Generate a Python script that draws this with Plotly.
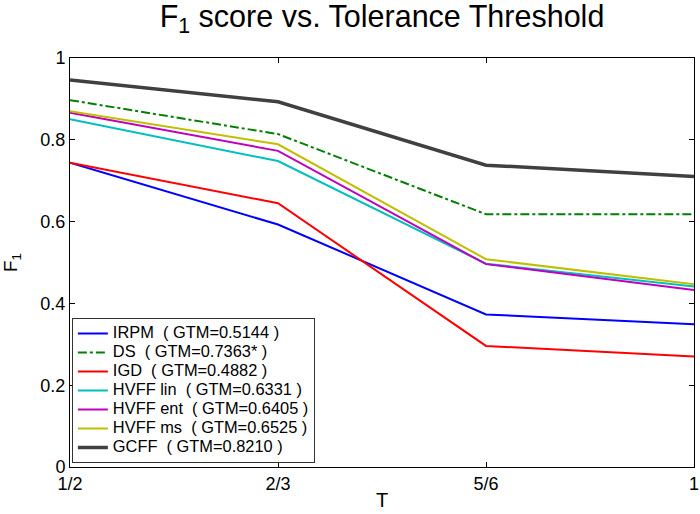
import plotly.graph_objects as go

x_labels = ["1/2", "2/3", "5/6", "1"]
x_pos = [0, 1, 2, 3]

series_names = [
    "IRPM  ( GTM=0.5144 )",
    "DS  ( GTM=0.7363* )",
    "IGD  ( GTM=0.4882 )",
    "HVFF lin  ( GTM=0.6331 )",
    "HVFF ent  ( GTM=0.6405 )",
    "HVFF ms  ( GTM=0.6525 )",
    "GCFF  ( GTM=0.8210 )",
]
irpm = [0.744, 0.593, 0.373, 0.349]
ds = [0.897, 0.814, 0.618, 0.618]
igd = [0.744, 0.645, 0.296, 0.270]
hvff_lin = [0.850, 0.748, 0.497, 0.441]
hvff_ent = [0.866, 0.773, 0.496, 0.433]
hvff_ms = [0.870, 0.789, 0.508, 0.447]
gcff = [0.946, 0.893, 0.738, 0.710]

series_values = [irpm, ds, igd, hvff_lin, hvff_ent, hvff_ms, gcff]
colors = ["#0000ff", "#008000", "#ff0000", "#00bfbf", "#bf00bf", "#bfbf00", "#404040"]
dashes = ["solid", "dashdot", "solid", "solid", "solid", "solid", "solid"]
widths = [2, 2, 2, 2, 2, 2, 3.5]

fig = go.Figure()
for name, vals, c, d, w in zip(series_names, series_values, colors, dashes, widths):
    fig.add_trace(go.Scatter(x=x_pos, y=vals, mode="lines",
                             name='<span style="font-size:16.4px">' + name + '</span>',
                             line=dict(color=c, dash=d, width=w)))

font_family = "Liberation Sans, Arial, sans-serif"
fig.update_layout(
    width=700, height=514,
    margin=dict(l=70, r=6, t=58, b=47, autoexpand=False),
    paper_bgcolor="white", plot_bgcolor="white",
    font=dict(family=font_family, color="black"),
    title=dict(text="F<sub>1</sub> score vs. Tolerance Threshold",
               x=0.5, xref="paper", xanchor="center",
               y=0.969, yref="container", yanchor="middle",
               font=dict(size=30.5, family=font_family)),
    showlegend=True,
    legend=dict(x=0.003, y=0.01, xanchor="left", yanchor="bottom",
                bordercolor="#333333", borderwidth=1, bgcolor="white",
                font=dict(size=11.8, family=font_family),
                tracegroupgap=0, itemwidth=30),
)
fig.update_xaxes(range=[0, 3], tickvals=x_pos, ticktext=x_labels,
                 ticks="inside", ticklen=5, tickcolor="black", automargin=False,
                 showline=True, linecolor="black", linewidth=1, mirror="ticks",
                 showgrid=False, zeroline=False, ticklabeloverflow="allow",
                 tickfont=dict(size=18),
                 title=dict(text="T", font=dict(size=20), standoff=0))
fig.update_yaxes(range=[0, 1], tickvals=[0, 0.2, 0.4, 0.6, 0.8, 1],
                 ticktext=["0", "0.2", "0.4", "0.6", "0.8", "1"],
                 ticks="inside", ticklen=5, tickcolor="black", automargin=False,
                 showline=True, linecolor="black", linewidth=1, mirror="ticks",
                 showgrid=False, zeroline=False,
                 tickfont=dict(size=18),
                 title=dict(text="F<sub>1</sub>", font=dict(size=19), standoff=18))

fig.write_html("out.html", config={"displayModeBar": False},
               post_script="document.body.style.margin='0';")
